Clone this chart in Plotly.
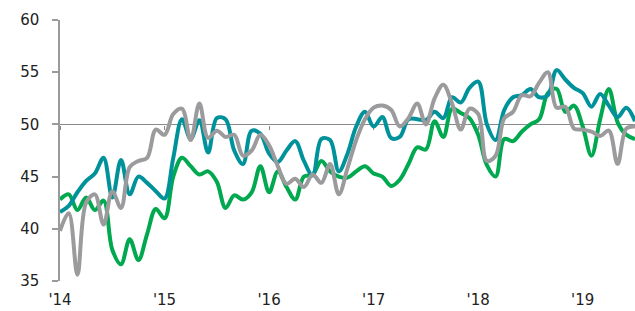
import plotly.graph_objects as go

months = list(range(67))  # Jan 2014 .. Jul 2019, monthly index

teal = [41.6, 42.2, 43.5, 44.6, 45.3, 46.8, 43.0, 46.6, 43.3, 45.0,
        44.4, 43.6, 42.9, 46.8, 50.5, 48.6, 50.4, 47.3, 50.6, 50.5,
        47.5, 46.2, 49.4, 49.1, 47.2, 46.4, 47.5, 48.4, 46.5, 45.1,
        48.6, 48.5, 45.5, 47.2, 49.8, 51.2, 49.8, 50.7, 48.7, 48.8,
        50.5, 50.5, 50.4, 51.2, 50.6, 52.6, 52.1, 53.5, 54.1, 50.0,
        48.5, 51.4, 52.6, 52.8, 53.4, 52.6, 52.8, 55.2, 54.3, 53.5,
        53.0, 51.7, 52.9, 51.8, 50.7, 51.6, 50.3]

green = [42.8, 43.3, 41.8, 43.0, 41.8, 42.7, 38.0, 36.6, 39.0, 37.0,
         39.5, 41.9, 41.0, 45.0, 46.8, 46.0, 45.2, 45.5, 44.5, 42.0,
         43.2, 42.8, 43.5, 46.0, 43.5, 45.5, 44.0, 42.8, 45.0, 45.2,
         46.5, 45.5, 45.0, 44.9, 45.5, 46.0, 45.3, 45.0, 44.1, 44.7,
         46.2, 47.8, 47.6, 50.3, 48.8, 51.5, 51.1, 50.6, 49.0, 46.1,
         45.0, 48.6, 48.4, 49.3, 50.0, 50.5, 53.0, 53.4, 51.2, 51.8,
         49.8, 47.0, 50.5, 53.4, 50.2, 49.0, 48.6]

gray = [39.8, 41.5, 35.6, 42.5, 43.3, 40.4, 43.6, 42.0, 45.9, 46.5,
        46.8, 49.5, 49.0, 51.0, 51.5, 48.5, 52.0, 48.7, 49.4, 48.8,
        49.0, 47.0, 47.5, 49.0, 48.0, 46.0, 44.3, 44.8, 44.0, 45.2,
        44.4, 46.2, 43.3, 45.8, 48.5, 50.5, 51.6, 51.8, 51.4, 49.8,
        50.6, 52.0, 50.0, 52.5, 53.8, 52.0, 49.5, 51.5, 51.0, 46.5,
        47.0, 50.6, 51.2, 52.8, 52.7, 54.0, 55.0, 51.6, 51.7, 49.6,
        49.5, 49.3, 48.9, 49.4, 46.2, 49.6, 49.8]

year_ticks = [0, 12, 24, 36, 48, 60]
year_labels = ["'14", "'15", "'16", "'17", "'18", "'19"]
y_ticks = [35, 40, 45, 50, 55, 60]

fig = go.Figure()
# invisible trace so the overlay axis (line at 50 with year ticks) renders
fig.add_trace(go.Scatter(x=[0, 66], y=[50, 50], xaxis="x2", mode="lines",
                         line=dict(width=0), hoverinfo="skip", showlegend=False))
for name, vals, col in [("Green", green, "#00A94F"),
                        ("Teal", teal, "#00929A"),
                        ("Gray", gray, "#9B9B9E")]:
    fig.add_trace(go.Scatter(x=months, y=vals, mode="lines", name=name,
                             line=dict(color=col, width=4, shape="spline", smoothing=1.0),
                             hoverinfo="skip"))

fig.update_layout(
    width=635, height=311,
    margin=dict(l=60, r=0, t=20, b=30, autoexpand=False),
    paper_bgcolor="white", plot_bgcolor="white",
    showlegend=False,
    font=dict(family="DejaVu Sans", size=15, color="#222"),
    xaxis=dict(range=[0, 66], tickvals=year_ticks, ticktext=year_labels,
               showgrid=False, zeroline=False, showline=False, ticks="",
               ticklabelstandoff=8, tickfont=dict(size=15), automargin=False),
    xaxis2=dict(range=[0, 66], overlaying="x", anchor="free", position=0.6,
                side="bottom", tickvals=year_ticks, showticklabels=False,
                ticks="outside", ticklen=4, tickcolor="#8A8A8A", tickwidth=1.3,
                showline=True, linecolor="#8A8A8A", linewidth=1.3,
                showgrid=False, zeroline=False, layer="below traces",
                automargin=False),
    yaxis=dict(range=[35, 60], tickvals=y_ticks, showgrid=False, zeroline=False,
               showline=True, linecolor="#9A9A9A", linewidth=1.5,
               ticks="outside", ticklen=6, tickcolor="#9A9A9A", tickwidth=1.5,
               ticklabelstandoff=10, tickfont=dict(size=15), automargin=False),
)

fig.write_html("out.html", config={"displayModeBar": False},
               post_script="document.body.style.margin='0';document.body.style.overflow='hidden';")
